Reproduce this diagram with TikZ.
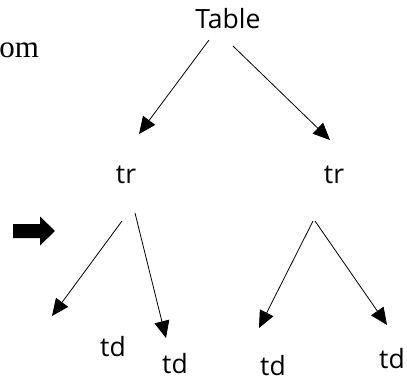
\documentclass[tikz,border=0pt]{standalone}
\usepackage{fontspec}
\setmainfont{Open Sans}
\newfontfamily\serifont{Liberation Serif}
\usetikzlibrary{arrows.meta}

\begin{document}
\begin{tikzpicture}[x=1pt, y=-1pt, line width=0.8pt,
  >={Triangle[length=17pt,width=15pt]},
  tag/.style={font=\fontsize{26.5}{30}\selectfont, inner sep=0pt, anchor=base}]
\useasboundingbox (0,0) rectangle (407,381);
\node[anchor=base west, inner sep=0pt, font=\serifont\fontsize{31}{33}\selectfont] (om) at (-1,57) {om};
% block arrow on the left
\coordinate (pointer) at (13,231);
\fill (pointer) ++(0,-7) -- ++(27,0) -- ++(0,-7.5) -- ++(15,14.5) -- ++(-15,14.5)
  -- ++(0,-7.5) -- ++(-27,0) -- cycle;
\node[tag] (table) at (228,28) {Table};
\node[tag] (trL) at (126,183) {tr};
\node[tag] (trR) at (334,183) {tr};
\node[tag] (tdA) at (113,356) {td};
\node[tag] (tdB) at (175,373) {td};
\node[tag] (tdC) at (273,375) {td};
\node[tag] (tdD) at (392,368) {td};
% ends of the arrows
\coordinate (t1) at (209,40);  \coordinate (h1) at (139,134);
\coordinate (t2) at (233,46);  \coordinate (h2) at (330,140);
\coordinate (t3) at (122,221); \coordinate (h3) at (52,316);
\coordinate (t4) at (135,213); \coordinate (h4) at (166,338);
\coordinate (t5) at (313,221); \coordinate (h5) at (259,328);
\coordinate (t6) at (315,221); \coordinate (h6) at (387,325);
\draw[->] (t1) -- (h1);
\draw[->] (t2) -- (h2);
\draw[->] (t3) -- (h3);
\draw[->] (t4) -- (h4);
\draw[->] (t5) -- (h5);
\draw[->] (t6) -- (h6);
\end{tikzpicture}
\end{document}
